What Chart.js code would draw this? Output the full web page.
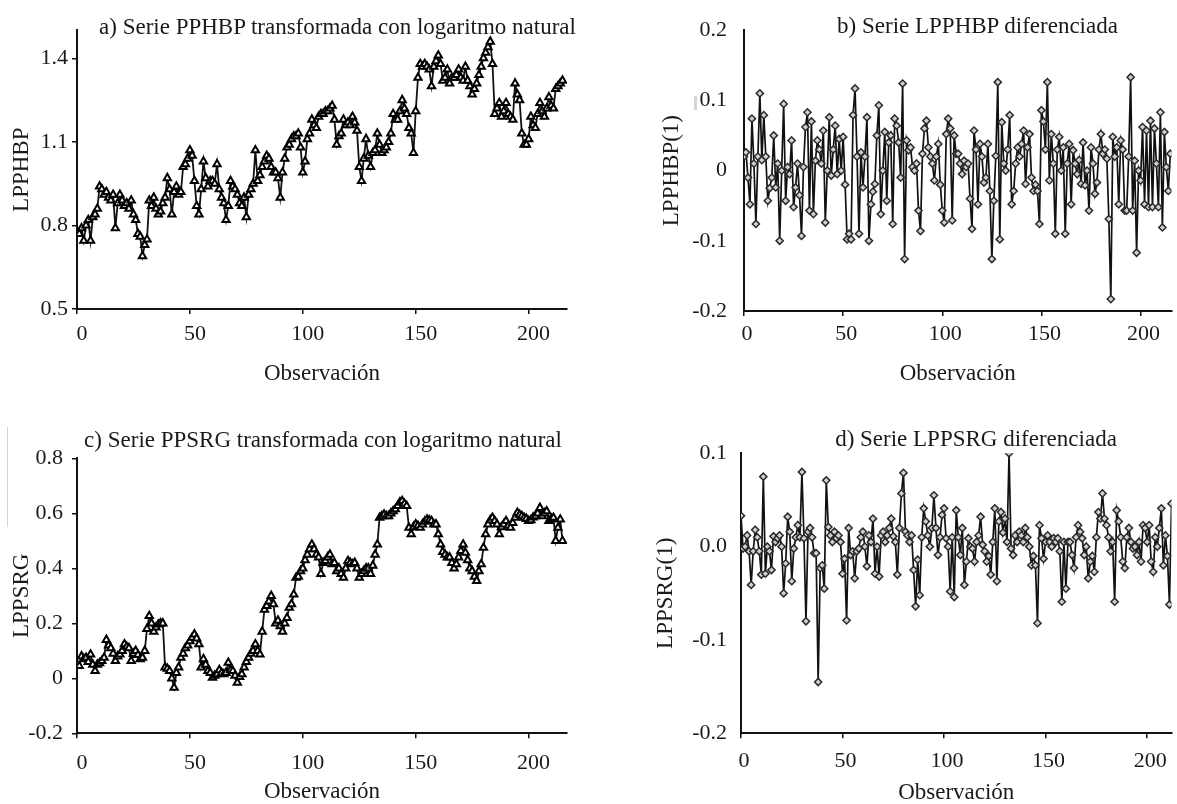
<!DOCTYPE html>
<html>
<head>
<meta charset="utf-8">
<script src="https://cdn.jsdelivr.net/npm/chart.js@4.4.1/dist/chart.umd.min.js"></script>
<style>
html,body{margin:0;padding:0;background:#fff;}
#wrap{position:relative;width:1177px;height:804px;overflow:hidden;background:#fff;}
canvas{position:absolute;}
.ttl{position:absolute;width:700px;text-align:center;font-family:"Liberation Serif","Times New Roman",serif;font-size:23px;line-height:23px;color:#1a1a1a;white-space:nowrap;}
.art{position:absolute;background:#d4d4d4;}
</style>
</head>
<body>
<div id="wrap">
  <canvas id="pa" width="600" height="400" style="left:0;top:0"></canvas>
  <canvas id="pb" width="527" height="400" style="left:650px;top:0"></canvas>
  <canvas id="pc" width="600" height="404" style="left:0;top:400px"></canvas>
  <canvas id="pd" width="527" height="404" style="left:650px;top:400px"></canvas>
  <div class="ttl" style="left:-12.5px;top:14.5px">a) Serie PPHBP transformada con logaritmo natural</div>
  <div class="ttl" style="left:627.5px;top:13.5px">b) Serie LPPHBP diferenciada</div>
  <div class="ttl" style="left:-27px;top:428px">c) Serie PPSRG transformada con logaritmo natural</div>
  <div class="ttl" style="left:626px;top:426.5px">d) Serie LPPSRG diferenciada</div>
  <div class="art" style="left:7px;top:427px;width:1px;height:100px"></div>
  <div class="art" style="left:694px;top:96px;width:3px;height:14px"></div>
</div>
<script>
// ---------- DATA ----------
const xTicks = [0, 50, 100, 150, 200];
const xTitle = 'Observación';

const aTitleY = 'LPPHBP';
const aYTicks = [0.5, 0.8, 1.1, 1.4];
const aYLabels = ['0.5', '0.8', '1.1', '1.4'];
const lpphbp = [
0.78,0.77,0.79,0.745,0.80,0.82,0.745,0.83,0.84,0.86,
0.94,0.93,0.91,0.92,0.90,0.89,0.91,0.79,0.88,0.91,
0.89,0.87,0.88,0.86,0.89,0.84,0.82,0.77,0.76,0.69,
0.73,0.75,0.89,0.87,0.90,0.86,0.84,0.85,0.88,0.90,
0.97,0.93,0.84,0.92,0.94,0.91,0.92,1.01,1.02,1.04,
1.07,1.05,0.96,0.87,0.84,0.93,1.03,0.97,0.94,0.96,
0.96,0.95,1.02,0.93,0.90,0.88,0.82,0.87,0.96,0.94,
0.93,0.91,0.88,0.87,0.90,0.83,0.91,0.93,0.95,1.07,
0.96,0.98,1.01,1.03,1.05,1.04,1.01,0.99,0.99,0.97,
0.90,0.99,1.04,1.08,1.09,1.11,1.12,1.12,1.13,1.08,
0.99,1.03,1.11,1.13,1.18,1.16,1.15,1.19,1.20,1.20,
1.21,1.21,1.22,1.23,1.18,1.09,1.12,1.13,1.18,1.16,
1.17,1.16,1.19,1.17,1.14,1.01,0.96,1.04,1.11,1.05,
1.01,1.06,1.07,1.13,1.09,1.06,1.07,1.08,1.10,1.13,
1.20,1.18,1.18,1.21,1.25,1.22,1.20,1.15,1.13,1.06,
1.21,1.33,1.38,1.37,1.38,1.37,1.36,1.30,1.37,1.39,
1.41,1.38,1.32,1.33,1.36,1.31,1.33,1.33,1.34,1.36,
1.33,1.32,1.37,1.32,1.30,1.27,1.29,1.31,1.34,1.37,
1.40,1.42,1.44,1.46,1.38,1.20,1.22,1.24,1.19,1.21,
1.24,1.20,1.19,1.18,1.31,1.27,1.25,1.13,1.09,1.09,
1.11,1.19,1.16,1.15,1.20,1.24,1.21,1.19,1.22,1.26,
1.23,1.22,1.29,1.30,1.31,1.32
];

const bTitleY = 'LPPHBP(1)';
const bYTicks = [-0.2, -0.1, 0, 0.1, 0.2];
const bYLabels = ['-0.2', '-0.1', '0', '0.1', '0.2'];
const lpphbpDiff = [
0.020,0.026,-0.010,-0.048,0.074,0.010,-0.076,0.020,0.110,0.015,
0.079,0.020,-0.043,-0.025,-0.010,0.050,-0.024,0.010,-0.100,0.000,
0.095,-0.043,0.005,-0.005,0.043,-0.052,-0.024,0.010,-0.035,-0.093,
0.005,0.062,0.083,-0.057,0.070,-0.062,0.014,0.043,0.030,0.010,
0.057,-0.074,0.000,0.076,-0.007,0.030,0.064,-0.005,0.045,0.000,
0.048,-0.020,-0.098,-0.090,-0.098,0.079,0.117,0.020,-0.090,0.026,
-0.024,0.020,0.076,-0.100,-0.048,-0.030,-0.019,0.050,0.093,-0.062,
0.000,0.055,-0.043,0.040,0.050,-0.076,0.074,0.064,0.040,-0.010,
0.124,-0.126,0.043,0.029,0.033,0.005,0.000,0.010,-0.057,-0.086,
0.024,0.060,0.071,0.033,0.020,0.010,-0.014,0.020,0.038,-0.020,
-0.057,-0.074,0.052,0.074,0.060,-0.071,0.050,0.024,0.024,0.010,
-0.005,0.014,0.005,0.010,-0.040,-0.083,0.057,0.030,-0.048,0.038,
0.020,-0.017,-0.010,0.038,-0.029,-0.126,-0.043,0.021,0.126,-0.098,
0.069,0.010,0.000,0.030,0.079,-0.048,-0.029,0.010,0.033,0.020,
0.038,0.057,-0.019,0.033,0.052,-0.010,-0.029,-0.020,-0.029,-0.076,
0.086,0.070,0.030,0.126,-0.014,0.052,0.010,-0.090,0.030,0.048,
0.000,0.033,-0.090,0.010,0.038,-0.048,0.029,0.010,-0.005,0.015,
-0.019,0.040,-0.021,0.000,-0.057,0.033,0.010,-0.033,-0.017,0.030,
0.052,0.024,0.030,0.017,-0.069,-0.183,0.048,0.020,0.033,-0.048,
0.043,0.030,-0.057,-0.057,0.020,0.133,-0.057,0.014,-0.117,0.000,
-0.014,0.062,-0.048,0.057,-0.052,0.071,-0.052,0.060,0.010,-0.052,
0.083,-0.081,0.055,0.005,-0.029,0.024
];

const cTitleY = 'LPPSRG';
const cYTicks = [-0.2, 0, 0.2, 0.4, 0.6, 0.8];
const cYLabels = ['-0.2', '0', '0.2', '0.4', '0.6', '0.8'];
const lppsrg = [
0.05,0.045,0.08,0.07,0.075,0.06,0.087,0.05,0.027,0.05,
0.055,0.063,0.075,0.14,0.12,0.11,0.09,0.063,0.08,0.087,
0.10,0.124,0.115,0.11,0.063,0.09,0.10,0.085,0.07,0.075,
0.10,0.18,0.227,0.20,0.17,0.185,0.196,0.20,0.20,0.04,
0.035,0.027,0.00,-0.034,0.02,0.04,0.075,0.09,0.11,0.12,
0.135,0.148,0.16,0.145,0.124,0.04,0.07,0.05,0.027,0.02,
0.002,0.01,0.015,0.03,0.02,0.015,0.02,0.057,0.03,0.027,
0.01,-0.016,0.005,0.015,0.04,0.06,0.075,0.09,0.10,0.124,
0.10,0.087,0.17,0.25,0.263,0.28,0.30,0.27,0.20,0.21,
0.19,0.17,0.20,0.22,0.257,0.27,0.305,0.366,0.37,0.39,
0.40,0.43,0.45,0.47,0.487,0.47,0.45,0.44,0.38,0.42,
0.427,0.44,0.45,0.415,0.42,0.39,0.40,0.38,0.366,0.40,
0.427,0.42,0.415,0.42,0.40,0.366,0.38,0.39,0.40,0.40,
0.38,0.41,0.45,0.487,0.584,0.59,0.596,0.59,0.59,0.60,
0.608,0.615,0.627,0.64,0.645,0.635,0.627,0.548,0.524,0.55,
0.56,0.555,0.548,0.56,0.57,0.578,0.575,0.572,0.56,0.56,
0.524,0.487,0.46,0.45,0.44,0.44,0.42,0.40,0.415,0.44,
0.463,0.487,0.457,0.43,0.40,0.39,0.37,0.354,0.39,0.415,
0.475,0.524,0.56,0.575,0.584,0.572,0.56,0.524,0.55,0.56,
0.572,0.555,0.548,0.565,0.584,0.602,0.595,0.59,0.584,0.58,
0.572,0.575,0.585,0.59,0.60,0.62,0.59,0.60,0.608,0.572,
0.58,0.584,0.50,0.548,0.578,0.50
];

const dTitleY = 'LPPSRG(1)';
const dYTicks = [-0.2, -0.1, 0, 0.1];
const dYLabels = ['-0.2', '-0.1', '0.0', '0.1'];
const lppsrgDiff = [
0.033,-0.002,0.000,0.012,-0.005,-0.041,-0.005,0.018,0.010,-0.005,
-0.030,0.075,-0.029,0.000,-0.005,-0.025,0.011,0.005,0.009,0.012,
0.000,-0.050,-0.018,0.032,0.016,-0.037,-0.002,0.010,0.023,0.010,
0.080,0.009,-0.080,0.016,0.020,0.010,-0.007,-0.007,-0.145,-0.023,
-0.020,-0.045,0.071,0.021,0.012,0.005,0.016,0.009,0.012,0.005,
-0.029,-0.013,-0.079,0.020,-0.009,-0.005,-0.034,-0.005,-0.002,0.010,
0.016,0.000,-0.021,0.012,0.005,0.030,-0.029,0.000,-0.032,0.012,
0.016,0.005,0.012,0.020,0.030,0.011,0.005,-0.030,0.020,0.057,
0.079,0.016,0.012,0.005,0.012,-0.025,-0.064,-0.014,-0.052,0.010,
0.041,0.027,0.012,0.000,0.020,0.055,0.020,-0.009,0.010,0.034,
0.041,0.009,0.000,-0.048,0.010,-0.054,0.039,0.010,-0.009,0.020,
-0.041,-0.016,0.009,0.000,-0.002,-0.016,0.005,0.012,0.032,0.002,
-0.005,-0.016,-0.010,-0.030,0.005,0.041,-0.037,0.027,0.037,0.015,
0.030,0.005,0.100,-0.002,-0.009,0.012,0.005,0.016,0.012,0.005,
0.020,0.010,0.000,-0.020,-0.010,-0.020,-0.082,0.023,0.009,-0.013,
0.005,0.012,0.005,0.000,0.009,0.005,0.009,-0.005,-0.059,0.005,
-0.045,0.005,0.005,-0.009,-0.023,0.010,0.023,0.016,0.009,-0.009,
0.000,-0.034,-0.016,-0.010,-0.027,0.010,0.037,0.030,0.057,0.030,
0.023,0.010,-0.005,0.005,-0.059,0.039,0.027,0.010,-0.016,-0.023,
0.010,0.020,0.005,-0.002,0.000,-0.009,0.005,-0.016,0.023,0.020,
0.005,0.023,-0.016,-0.027,0.010,0.000,0.020,0.041,-0.020,0.012,
-0.010,-0.062,0.046,0.020,-0.010,0.010
];

// ---------- RENDERING ----------
const FONT = '"Liberation Serif","Times New Roman",serif';
const INK = '#1a1a1a';

function panel(id, values, yTicks, yLabels, yTitle, g) {
  const pts = values.map((v, i) => ({ x: i, y: v }));
  return new Chart(document.getElementById(id), {
    type: 'line',
    data: {
      datasets: [{
        data: pts,
        borderColor: '#111',
        borderWidth: g.lw,
        tension: 0,
        pointStyle: g.pointStyle,
        pointRadius: g.r,
        pointBackgroundColor: g.fill,
        pointBorderColor: g.pbc,
        pointBorderWidth: g.pbw
      }]
    },
    options: {
      responsive: false,
      animation: false,
      devicePixelRatio: 1,
      events: [],
      layout: { padding: { left: 0, right: g.padR, top: g.padT, bottom: 0 } },
      plugins: { legend: { display: false }, tooltip: { enabled: false }, title: { display: false } },
      scales: {
        x: {
          type: 'linear', min: 0, max: g.xMax,
          afterBuildTicks: s => { s.ticks = xTicks.map(v => ({ value: v })); },
          afterFit: s => { s.height = g.xH; },
          grid: { display: true, drawOnChartArea: false, drawTicks: true, tickLength: 5, color: '#111', lineWidth: 1.5 },
          border: { display: true, color: '#111', width: 2 },
          ticks: { autoSkip: false, maxRotation: 0, padding: g.xPad, labelOffset: g.xOff, color: INK,
                   font: { family: FONT, size: 22 }, callback: v => String(v) },
          title: { display: true, text: xTitle, color: INK, padding: { top: 0, bottom: g.xtPad },
                   font: { family: FONT, size: 23, lineHeight: 1 } }
        },
        y: {
          type: 'linear', min: yTicks[0], max: g.yMax,
          afterBuildTicks: s => { s.ticks = yTicks.map(v => ({ value: v })); },
          afterFit: s => { s.width = g.yW; },
          grid: { display: g.yTickMarks, drawOnChartArea: false, drawTicks: g.yTickMarks, tickLength: 5, color: '#111', lineWidth: 1.5 },
          border: { display: true, color: '#111', width: 2 },
          ticks: { padding: g.yPad, color: INK, font: { family: FONT, size: 22 },
                   callback: (v, i) => yLabels[i] },
          title: { display: true, text: yTitle, color: INK, padding: { top: g.ytPad, bottom: 0 },
                   font: { family: FONT, size: 23, lineHeight: 1 } }
        }
      }
    }
  });
}

panel('pa', lpphbp, aYTicks, aYLabels, aTitleY,
  { pointStyle: 'triangle', r: 4.2, fill: '#ffffff', pbc: '#000', pbw: 2, lw: 1.8, padR: 33, padT: 30.4, xMax: 217, yMax: 1.5,
    xH: 91, yW: 77, xPad: 6.8, xOff: 5, xtPad: 15, yPad: 4, ytPad: 10.5, yTickMarks: true });

panel('pb', lpphbpDiff, bYTicks, bYLabels, bTitleY,
  { pointStyle: 'rectRot', r: 3.6, fill: '#d0d0d0', pbc: '#2a2a2a', pbw: 1.5, lw: 1.7, padR: 0, padT: 29, xMax: 215.6, yMax: 0.2,
    xH: 89, yW: 94, xPad: 4.8, xOff: 3, xtPad: 15, yPad: 17, ytPad: 10.2, yTickMarks: false });

panel('pc', lppsrg, cYTicks, cYLabels, cTitleY,
  { pointStyle: 'triangle', r: 4.2, fill: '#ffffff', pbc: '#000', pbw: 2, lw: 1.8, padR: 33, padT: 58.3, xMax: 217, yMax: 0.8,
    xH: 70.7, yW: 77, xPad: 11.8, xOff: 5, xtPad: 0.7, yPad: 9, ytPad: 10.5, yTickMarks: true });

panel('pd', lppsrgDiff, dYTicks, dYLabels, dTitleY,
  { pointStyle: 'rectRot', r: 3.6, fill: '#d0d0d0', pbc: '#2a2a2a', pbw: 1.5, lw: 1.7, padR: 0, padT: 53.3, xMax: 212, yMax: 0.1,
    xH: 70.7, yW: 91, xPad: 10.2, xOff: 3, xtPad: 0, yPad: 14, ytPad: 4.5, yTickMarks: false });
</script>
</body>
</html>
